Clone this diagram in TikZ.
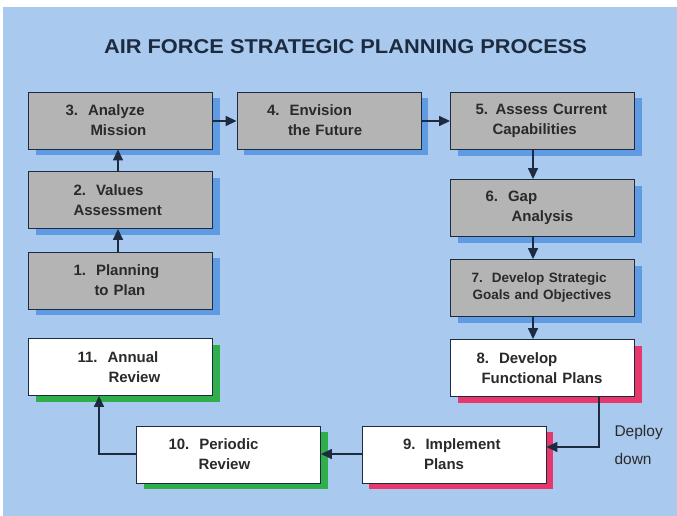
\documentclass[tikz,border=0pt]{standalone}
\usepackage{fontspec}
\setmainfont{Liberation Sans}
\usetikzlibrary{arrows.meta,shadows}

\definecolor{bgblue}{HTML}{A9CAEE}
\definecolor{shblue}{HTML}{5E9BE2}
\definecolor{shred}{HTML}{E8376B}
\definecolor{shgreen}{HTML}{2FAE4C}
\definecolor{boxgray}{HTML}{B4B4B4}
\definecolor{ink}{HTML}{1C2B40}
\definecolor{txt}{HTML}{2A2A2A}

% two-line label, each line indented from the left edge of its box
\newcommand{\twoline}[4]{\hspace*{#1pt}#2\\\hspace*{#3pt}#4}

\tikzset{
  stepbox/.style={draw=ink, line width=0.9pt, minimum height=57pt,
    text width=184pt, inner xsep=0pt, inner ysep=0pt, align=left,
    font=\bfseries\fontsize{15}{20}\selectfont, text=txt},
  graybox/.style={stepbox, fill=boxgray,
    drop shadow={shadow xshift=7pt, shadow yshift=-6pt, fill=shblue, opacity=1}},
  redbox/.style={stepbox, fill=white,
    drop shadow={shadow xshift=7pt, shadow yshift=-6pt, fill=shred, opacity=1}},
  greenbox/.style={stepbox, fill=white,
    drop shadow={shadow xshift=7pt, shadow yshift=-6pt, fill=shgreen, opacity=1}},
  flow/.style={draw=ink, line width=1.5pt, -{Triangle[length=11pt,width=10pt]}}
}

\begin{document}
\begin{tikzpicture}[x=1pt, y=-1pt]
  \useasboundingbox (0,0) rectangle (677,516);
  \fill[bgblue] (3,7) rectangle (677,516);

  \node[text=ink] (title) at (345.5,47)
    {\scalebox{1.09}[1]{\fontsize{20}{24}\selectfont\bfseries AIR FORCE STRATEGIC PLANNING PROCESS}};

  % strategic planning steps
  \node[graybox] (b3) at (120.5,120.5) {\twoline{37}{3.\ \ Analyze}{62}{Mission}};
  \node[graybox] (b4) at (329,120.5)   {\twoline{30}{4.\ \ Envision}{51}{the Future}};
  \node[graybox] (b5) at (542.5,121)   {\twoline{25}{5. Assess Current}{42}{Capabilities}};
  \node[graybox] (b2) at (120.5,200)   {\twoline{45}{2.\ \ Values}{45}{Assessment}};
  \node[graybox] (b1) at (120.5,280.5) {\twoline{45}{1.\ \ Planning}{66}{to Plan}};
  \node[graybox] (b6) at (542.5,208)   {\twoline{35}{6.\ \ Gap}{61}{Analysis}};
  \node[graybox, font=\bfseries\fontsize{13.5}{17}\selectfont] (b7) at (542.5,288)
    {\twoline{21}{7.\ \ Develop Strategic}{22}{Goals and Objectives}};

  % implementation and review steps
  \node[redbox]   (b8)  at (542.5,368)  {\twoline{26}{8.\ \ Develop}{31}{Functional Plans}};
  \node[redbox]   (b9)  at (454,454.5)  {\twoline{41}{9.\ \ Implement}{62}{Plans}};
  \node[greenbox] (b10) at (228.5,454.5){\twoline{32}{10.\ \ Periodic}{62}{Review}};
  \node[greenbox] (b11) at (120.5,367)  {\twoline{49}{11.\ \ Annual}{80}{Review}};

  \node[anchor=west, align=left, text=txt, font=\fontsize{15.5}{28}\selectfont]
    (deploy) at (611,445) {Deploy\\down};

  % connector guide lines
  \coordinate (lx) at (118,0);
  \coordinate (rx) at (533,0);
  \coordinate (ty) at (0,121);
  \coordinate (dx) at (599,0);
  \coordinate (dy) at (0,447);
  \coordinate (by) at (0,454);
  \coordinate (ux) at (99,0);

  \draw[flow] (b1.north -| lx) -- (b2.south -| lx);
  \draw[flow] (b2.north -| lx) -- (b3.south -| lx);
  \draw[flow] (b3.east |- ty) -- (b4.west |- ty);
  \draw[flow] (b4.east |- ty) -- (b5.west |- ty);
  \draw[flow] (b5.south -| rx) -- (b6.north -| rx);
  \draw[flow] (b6.south -| rx) -- (b7.north -| rx);
  \draw[flow] (b7.south -| rx) -- (b8.north -| rx);
  \draw[flow] (b8.south -| dx) |- (b9.east |- dy);
  \draw[flow] (b9.west |- by) -- (b10.east |- by);
  \draw[flow] (b10.west |- by) -| (b11.south -| ux);
\end{tikzpicture}
\end{document}
